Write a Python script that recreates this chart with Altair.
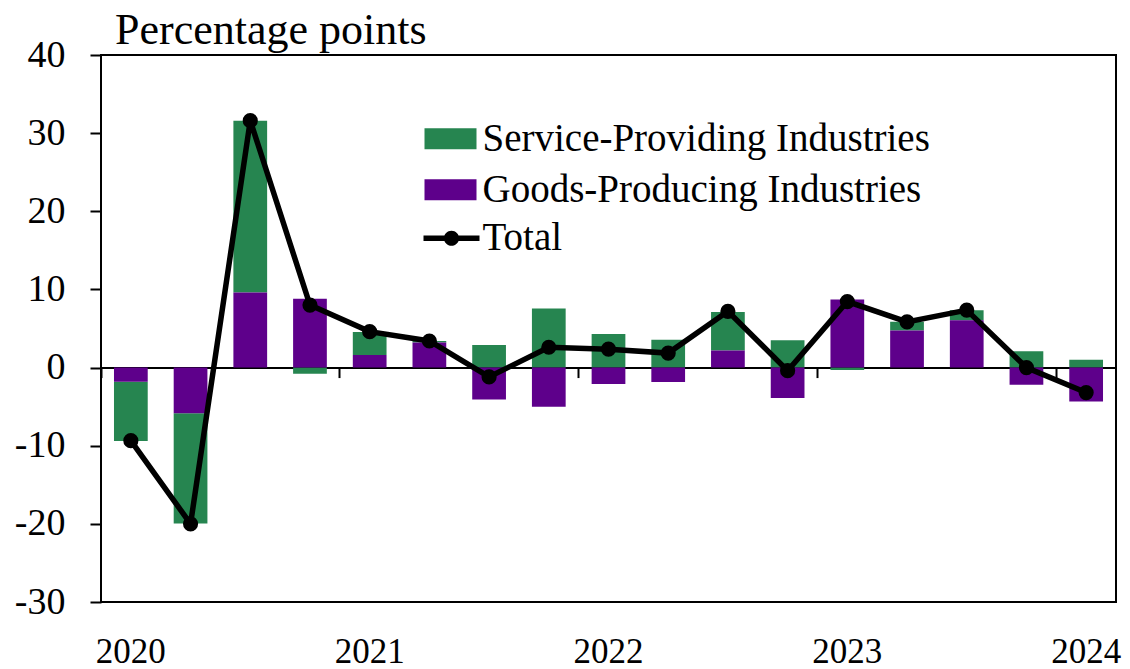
import altair as alt
import pandas as pd

# ---- data ----
quarters = ["2020Q1", "2020Q2", "2020Q3", "2020Q4",
            "2021Q1", "2021Q2", "2021Q3", "2021Q4",
            "2022Q1", "2022Q2", "2022Q3", "2022Q4",
            "2023Q1", "2023Q2", "2023Q3", "2023Q4",
            "2024Q1"]
services = [-7.6, -14.1, 22.0, -0.8, 2.95, 0.2, 2.9, 7.55, 4.3, 3.55, 4.9, 3.5, -0.3, 1.1, 1.3, 2.1, 1.0]
goods = [-1.8, -5.85, 9.6, 8.8, 1.6, 3.2, -4.1, -5.0, -2.1, -1.85, 2.2, -3.9, 8.7, 4.75, 6.05, -2.2, -4.35]
total = [-9.35, -20.0, 31.6, 8.0, 4.6, 3.4, -1.2, 2.6, 2.35, 1.85, 7.2, -0.4, 8.45, 5.85, 7.35, 0.0, -3.2]

series_names = ["Service-Providing Industries", "Goods-Producing Industries"]
series_colors = ["#268550", "#5E008B"]
total_name = ["Total"]
year_quarters = ["2020Q1", "2021Q1", "2022Q1", "2023Q1", "2024Q1"]
y_ticks = [-30, -20, -10, 0, 10, 20, 30, 40]
Y_MIN, Y_MAX = -30, 40

bars_df = pd.DataFrame({
    "quarter": quarters * 2,
    "series": [series_names[0]] * len(quarters) + [series_names[1]] * len(quarters),
    "value": services + goods,
    "stack_order": [1] * len(quarters) + [0] * len(quarters),
})
total_df = pd.DataFrame({"quarter": quarters, "series": total_name * len(quarters), "value": total})

# ---- layout ----
FONT = "Liberation Serif"
W, H = 1015, 547
PAD = {"left": 93, "top": 47, "right": 6, "bottom": 70}
zero_offset = -(H * (0 - Y_MIN) / (Y_MAX - Y_MIN))
# year labels: baseline near the bottom of the page
label_pad = (PAD["top"] + H + 60) - (PAD["top"] + H + zero_offset) - 10

x_scale = alt.Scale(type="band", domain=quarters, paddingInner=0, paddingOuter=0)
y_scale = alt.Scale(domain=[Y_MIN, Y_MAX], nice=False, zero=False)

x_axis = alt.Axis(
    values=year_quarters, bandPosition=0, offset=zero_offset,
    domainColor="black", domainWidth=2, tickColor="black", tickWidth=2, tickSize=10,
    labelExpr="substring(datum.value, 0, 4)", labelAngle=0,
    labelPadding=label_pad, labelBaseline="alphabetic", labelAlign="center",
    labelFont=FONT, labelFontSize=35, labelColor="black", title=None, grid=False,
)
y_axis = alt.Axis(
    values=y_ticks, domain=False, tickColor="black", tickWidth=2, tickSize=11,
    labelExpr="'' + datum.value",
    labelPadding=25, labelFont=FONT, labelFontSize=38, labelColor="black", labelFlush=False,
    grid=False, title="Percentage points", titleAngle=0, titleX=13.5, titleY=-12,
    titleAlign="left", titleBaseline="alphabetic", titleFont=FONT, titleFontSize=44,
    titleFontWeight="normal", titleColor="black",
)

legend_bars = alt.Legend(
    title=None, orient="none", legendX=323.5, legendY=57.8,
    symbolType="M-1,-0.404H1V0.404H-1Z", symbolSize=2704, symbolStrokeWidth=0, symbolOpacity=1,
    labelFont=FONT, labelFontSize=39, labelColor="black", labelOffset=6, labelLimit=900,
    rowPadding=5, padding=0,
)
legend_total = alt.Legend(
    title=None, orient="none", legendX=322.5, legendY=155.3,
    symbolType="M-1,-0.1H1V0.1H-1Z M-0.27,0A0.27,0.27,0,1,1,0.27,0A0.27,0.27,0,1,1,-0.27,0Z",
    symbolSize=3136, symbolStrokeWidth=0, symbolOpacity=1, symbolFillColor="black",
    labelFont=FONT, labelFontSize=39, labelColor="black", labelOffset=3, labelLimit=900,
    rowPadding=0, padding=0,
)

bars = alt.Chart(bars_df).mark_bar(width=alt.RelativeBandSize(0.565)).encode(
    x=alt.X("quarter:N", scale=x_scale, axis=x_axis),
    y=alt.Y("value:Q", scale=y_scale, axis=y_axis, stack="zero"),
    color=alt.Color("series:N", scale=alt.Scale(domain=series_names, range=series_colors),
                    legend=legend_bars),
    order=alt.Order("stack_order:Q", sort="ascending"),
)

line = alt.Chart(total_df).mark_line(color="black", strokeWidth=5.5).encode(
    x=alt.X("quarter:N", scale=x_scale, axis=x_axis),
    y=alt.Y("value:Q", scale=y_scale, axis=y_axis),
)

points = alt.Chart(total_df).mark_circle(size=230, opacity=1).encode(
    x=alt.X("quarter:N", scale=x_scale, axis=x_axis),
    y=alt.Y("value:Q", scale=y_scale, axis=y_axis),
    fill=alt.Fill("series:N", scale=alt.Scale(domain=total_name, range=["black"]),
                  legend=legend_total),
)

chart = alt.layer(bars, line, points).properties(
    width=W, height=H,
    autosize=alt.AutoSizeParams(type="none"),
    padding=PAD,
    background="white",
).configure_view(stroke="black", strokeWidth=2)

chart.save("out.html", embed_options={"renderer": "svg", "actions": False})
